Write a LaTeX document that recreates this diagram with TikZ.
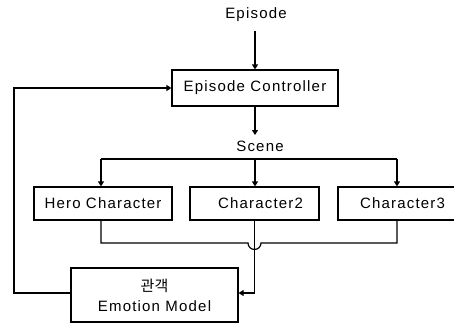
\documentclass[tikz,border=0pt]{standalone}
\usepackage{fontspec}
\setmainfont[LetterSpace=8]{Liberation Sans}
\newfontfamily\kfont{Noto Sans CJK KR}
\usetikzlibrary{arrows.meta}
\begin{document}
\begin{tikzpicture}[x=1pt,y=-1pt,
  box/.style={draw,line width=1.2pt,inner sep=0pt},
  lbl/.style={font=\fontsize{15}{17}\selectfont,inner sep=0pt},
  conn/.style={line width=1.2pt},
  arr/.style={conn,-{Triangle[width=6pt,length=5pt]}}]
\useasboundingbox (0,0) rectangle (454,324);
\node[lbl] (ep) at (256,15) {Episode};
\node[box,lbl,minimum width=166pt,minimum height=36pt] (ec) at (255,88) {Episode Controller};
\node[lbl] (sc) at (260,146) {Scene};
\coordinate (sctop) at (255,135);
\node[box,lbl,minimum width=138pt,minimum height=33pt] (hero) at (103,203.5) {Hero Character};
\node[box,lbl,minimum width=129pt,minimum height=33pt] (c2) at (254.5,203.5) {\hspace*{12pt}Character2};
\node[box,lbl,minimum width=129pt,minimum height=33pt] (c3) at (402.5,203.5) {Character3};
\node[box,minimum width=167pt,minimum height=54pt,align=center,font=\fontsize{15}{20}\selectfont] (em) at (154.5,295) {{\kfont 관객}\\Emotion Model};
% Episode -> controller
\draw[arr] (255,31) -- (ec.north);
\draw[arr] (ec.south) -- (sctop);
% Scene distribution
\coordinate (sl) at (101,159);
\coordinate (sm) at (255,159);
\coordinate (sr) at (397,159);
\draw[conn] (sl) -- (sr);
\draw[arr] (sl) -- (hero.north -| sl);
\draw[arr] (sm) -- (c2.north -| sm);
\draw[arr] (sr) -- (c3.north -| sr);
% merge line with hop
\coordinate (ml) at (101,243);
\coordinate (mr) at (397,243);
\draw[conn] (hero.south -| ml) -- (ml) -- (248,243) arc[start angle=180,end angle=0,radius=6.5] -- (mr) -- (c3.south -| mr);
% Char2 to emotion model
\coordinate (c2b) at (254.5,293);
\draw[arr] (c2.south) -- (c2b) -- (em.east |- c2b);
% feedback
\coordinate (fb1) at (14,293);
\coordinate (fb2) at (14,88);
\draw[arr] (em.west |- fb1) -- (fb1) -- (fb2) -- (ec.west);
\end{tikzpicture}
\end{document}
